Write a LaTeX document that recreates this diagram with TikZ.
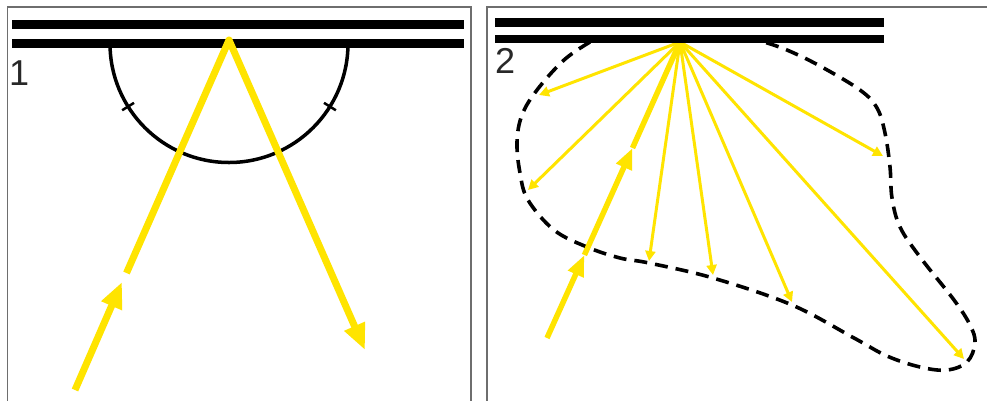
\documentclass[tikz,border=0pt]{standalone}
\usepackage{fontspec}
\setmainfont{Liberation Sans}
\usetikzlibrary{arrows.meta,calc}
\definecolor{ray}{RGB}{255,228,0}
\definecolor{frame}{RGB}{110,110,110}
\definecolor{lbl}{RGB}{40,40,40}
\tikzset{
  panelframe/.style={draw=frame,line width=1.3pt},
  mirrorbar/.style={draw=black,line width=8.5pt},
  thickray/.style={draw=ray,line width=7pt,line join=round},
  midray/.style={draw=ray,line width=5.5pt},
  thinray/.style={draw=ray,line width=3pt,-{Triangle[length=10pt,width=10pt]}},
  bigtip/.style={-{Triangle[length=26pt,width=21pt]}},
  midtip/.style={-{Triangle[length=21pt,width=16pt]}},
  panellabel/.style={font=\fontsize{36}{36}\selectfont,text=lbl,inner sep=0pt,anchor=base west},
  scattercurve/.style={draw=black,line width=3.6pt,dash pattern=on 13pt off 8pt},
  ticks/.style={draw=black,line width=2.5pt}
}
\begin{document}
\begin{tikzpicture}[x=1pt,y=-1pt]
\useasboundingbox (0,0) rectangle (987,400);
\fill[white] (0,0) rectangle (987,400);
% frames
\draw[panelframe] (7.5,410) -- (7.5,7) -- (471,7) -- (471,410);
\draw[panelframe] (487,410) -- (487,7) -- (995,7);
% ---------------- panel 1 ----------------
\draw[mirrorbar] (12,24.5) -- (464,24.5);
\draw[mirrorbar] (12,43.5) -- (464,43.5);
\node[panellabel] (lab1) at (9,85) {1};
\coordinate (c1) at (229,43.5);
\draw[black,line width=3.5pt] (110,43.5) arc[start angle=180,end angle=0,radius=119];
\draw[ticks] ($(c1)+(148:112)$) -- ($(c1)+(148:126)$);
\draw[ticks] ($(c1)+(32:112)$) -- ($(c1)+(32:126)$);
\coordinate (a1) at (229,40);
\coordinate (in1s) at (75,390);
\coordinate (in1e) at (122,282);
\coordinate (in1r) at (126.5,273);
\coordinate (out1) at (365,350);
\draw[thickray,bigtip] (in1s) -- (in1e);
\draw[thickray,bigtip] (in1r) -- (a1) -- (out1);
% ---------------- panel 2 ----------------
\draw[scattercurve] plot[smooth,tension=0.6] coordinates {
 (590,42) (564,60) (537,90) (522,115) (517,142) (520,173) (528,200)
 (554,230) (587,247) (620,258) (649,263) (713,278) (792,305) (854,338)
 (887,356) (920,367) (947,370) (967,362) (975,343) (970,325) (954,300)
 (920,257) (900,227) (892,198) (890,167) (885,133) (877,108) (860,90)
 (820,66) (787,50) (764,42)};
\coordinate (a2) at (680,42);
\coordinate (r1) at (539,95);
\coordinate (r2) at (528,190);
\coordinate (r3) at (649,261);
\coordinate (r4) at (713,275);
\coordinate (r5) at (792,302);
\coordinate (r6) at (964,359);
\coordinate (r7) at (883,156);
\foreach \p in {r1,r2,r3,r4,r5,r6,r7} \draw[thinray] (a2) -- (\p);
\coordinate (in2s) at (547,338);
\coordinate (in2m1) at (584.4,255);
\coordinate (in2m2) at (632.5,148);
\draw[midray,midtip] (in2s) -- (in2m1);
\draw[midray,midtip] (in2m1) -- (in2m2);
\draw[midray,line join=round] (in2m2) -- (a2);
\draw[mirrorbar] (495,22.5) -- (884,22.5);
\draw[mirrorbar] (495,39) -- (884,39);
\node[panellabel] (lab2) at (495,73) {2};
\end{tikzpicture}
\end{document}
